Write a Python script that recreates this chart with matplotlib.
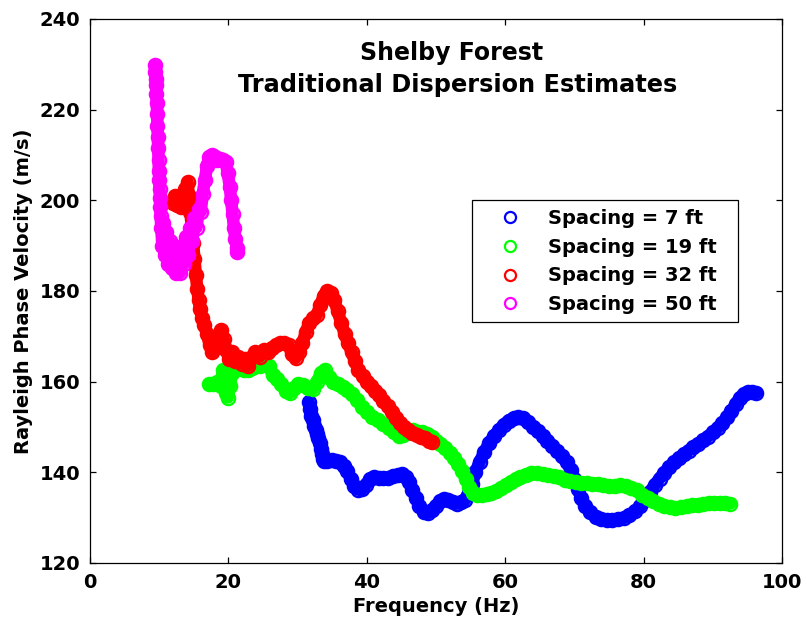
import matplotlib
matplotlib.use("Agg")
import matplotlib.pyplot as plt
from matplotlib.lines import Line2D
from matplotlib.patches import Rectangle

plt.rcParams['font.family'] = ['DejaVu Sans']
plt.rcParams['font.weight'] = 'bold'

# ---------------- data ----------------
title_lines = ["Shelby Forest", "Traditional Dispersion Estimates"]
x_label = "Frequency (Hz)"
y_label = "Rayleigh Phase Velocity (m/s)"
x_ticks = [0, 20, 40, 60, 80, 100]
y_ticks = [120, 140, 160, 180, 200, 220, 240]
series_labels = ["Spacing = 7 ft", "Spacing = 19 ft", "Spacing = 32 ft", "Spacing = 50 ft"]
series_colors = ["#0000ff", "#00ff00", "#ff0000", "#ff00ff"]

blue_f = [31.6, 31.8, 32.0, 32.2, 32.4, 32.6, 32.8, 33.0, 33.2, 33.4,
          33.5, 33.6, 33.8, 34.3, 34.9, 35.5, 36.1, 36.7, 37.2, 37.7,
          38.2, 38.7, 39.3, 39.9, 40.4, 41.0, 41.7, 42.4, 43.1, 43.8,
          44.5, 45.1, 45.6, 46.1, 46.6, 47.1, 47.6, 48.2, 48.8, 49.4,
          50.0, 50.6, 51.2, 51.8, 52.4, 53.0, 53.6, 54.2, 54.7, 55.2,
          55.7, 56.3, 57.0, 57.7, 58.4, 59.1, 59.8, 60.5, 61.2, 61.9,
          62.6, 63.3, 64.0, 64.7, 65.4, 66.1, 66.8, 67.5, 68.2, 68.9,
          69.5, 70.0, 70.5, 71.0, 71.6, 72.3, 73.1, 73.9, 74.7, 75.5,
          76.3, 77.1, 77.9, 78.7, 79.5, 80.2, 80.9, 81.6, 82.3, 83.0,
          83.7, 84.4, 85.1, 85.8, 86.5, 87.2, 87.9, 88.6, 89.3, 90.0,
          90.7, 91.4, 92.1, 92.7, 93.3, 93.9, 94.5, 95.1, 95.7, 96.3]
blue_v = [155.5, 154.0, 152.5, 151.5, 150.3, 149.3, 148.4, 147.5, 146.4, 145.2,
          144.0, 143.0, 142.4, 142.5, 142.7, 142.6, 142.2, 141.5, 140.2, 138.5,
          137.0, 136.2, 136.3, 137.3, 138.5, 138.9, 138.8, 138.7, 138.8, 139.1,
          139.5, 139.6, 139.0, 137.8, 136.2, 134.4, 132.6, 131.3, 131.0, 131.6,
          132.6, 133.6, 134.2, 134.0, 133.4, 133.1, 133.4, 134.0, 135.5, 137.5,
          140.0, 142.3, 144.5, 146.5, 148.0, 149.3, 150.5, 151.4, 152.0, 152.2,
          151.9, 151.0, 150.1, 149.2, 148.1, 147.0, 145.9, 144.7, 143.5, 142.2,
          140.5, 138.5, 136.3, 134.3, 132.5, 131.2, 130.2, 129.7, 129.5, 129.5,
          129.6, 129.9, 130.5, 131.4, 132.5, 134.0, 135.6, 137.2, 138.6, 139.9,
          141.1, 142.2, 143.1, 144.0, 144.8, 145.6, 146.3, 147.1, 147.9, 148.8,
          149.8, 150.9, 152.1, 153.5, 155.0, 156.4, 157.3, 157.7, 157.7, 157.5]

green_f = [17.2, 17.8, 18.4, 18.9, 19.2, 19.4, 19.6, 19.9, 20.2, 20.5,
           21.0, 21.6, 22.2, 22.8, 23.4, 24.0, 24.6, 25.2, 25.8, 26.4,
           27.0, 27.6, 28.3, 28.9, 29.5, 30.1, 30.8, 31.5, 32.2, 32.8,
           33.4, 33.9, 34.5, 35.1, 35.8, 36.5, 37.2, 37.9, 38.6, 39.3,
           40.0, 40.8, 41.6, 42.4, 43.2, 43.9, 44.6, 45.3, 46.0, 46.7,
           47.4, 48.0, 48.7, 49.4, 50.0, 50.6, 51.3, 52.0, 52.6, 53.2,
           53.8, 54.3, 54.8, 55.3, 55.9, 56.6, 57.3, 58.0, 58.7, 59.4,
           60.1, 60.8, 61.5, 62.2, 63.0, 63.8, 64.6, 65.4, 66.2,
           67.0, 67.8, 68.6, 69.4, 70.2, 71.0, 71.8, 72.6, 73.4, 74.2,
           75.0, 75.8, 76.6, 77.4, 78.2, 79.0, 79.8, 80.6, 81.4, 82.2,
           83.0, 83.8, 84.6, 85.4, 86.2, 87.0, 87.8, 88.6, 89.4, 90.2,
           91.0, 91.8, 92.5]
green_v = [159.5, 159.5, 160.0, 159.0, 162.5, 160.0, 157.5, 156.5, 159.0, 162.0,
           163.5, 163.0, 162.5, 162.5, 163.0, 163.5, 163.5, 164.5, 163.5, 161.5,
           160.5, 159.5, 158.0, 157.5, 158.5, 159.5, 159.2, 158.5, 158.4, 160.0,
           162.0, 162.5, 161.0, 160.0, 159.5, 158.8, 158.2, 157.2, 156.0, 154.5,
           153.2, 152.3, 151.5, 150.6, 149.8, 149.0, 148.0, 148.2, 149.0, 149.3,
           149.0, 148.8, 148.5, 147.8, 147.0, 146.3, 145.3, 144.3, 143.2, 141.8,
           140.2, 138.5, 136.7, 135.4, 134.9, 135.0, 135.2, 135.4, 135.8, 136.5,
           137.2, 137.9, 138.5, 139.0, 139.5, 139.8, 139.8, 139.7, 139.5,
           139.3, 138.9, 138.4, 138.0, 137.8, 137.7, 137.6, 137.5, 137.4, 137.2,
           137.0, 136.9, 137.1, 136.9, 136.6, 136.0, 135.1, 134.3, 133.6, 133.1,
           132.6, 132.3, 132.2, 132.3, 132.5, 132.7, 132.9, 133.1, 133.3, 133.3,
           133.3, 133.2, 133.1]

red_f = [12.0, 12.3, 12.6, 12.9, 13.2, 13.5, 13.8, 14.1, 14.3, 14.5,
         14.7, 14.9, 15.1, 15.3, 15.5, 15.7, 15.9, 16.2, 16.5, 16.9,
         17.3, 17.7, 18.1, 18.5, 18.9, 19.3, 19.7, 20.1, 20.5, 20.9,
         21.4, 21.9, 22.4, 22.9, 23.4, 23.9, 24.5, 25.1, 25.7, 26.3,
         26.9, 27.5, 28.1, 28.7, 29.2, 29.7, 30.2, 30.7, 31.2, 31.7,
         32.2, 32.8, 33.3, 33.8, 34.3, 34.8, 35.3, 35.8, 36.3, 36.8,
         37.3, 37.8, 38.3, 38.8, 39.4, 40.0, 40.6, 41.2, 41.8, 42.4,
         43.0, 43.6, 44.2, 44.8, 45.4, 46.0, 46.6, 47.2, 47.8, 48.4,
         49.0, 49.4]
red_v = [199.5, 201.0, 199.0, 200.5, 198.5, 200.5, 202.5, 204.0, 201.0, 197.5,
         194.0, 190.5, 187.0, 183.5, 180.5, 178.0, 176.0, 174.0, 172.5, 170.5,
         168.0, 166.5, 167.5, 170.0, 171.5, 169.5, 167.0, 165.0, 166.5, 164.5,
         165.5, 164.0, 165.0, 163.5, 165.5, 166.5, 165.5, 167.0, 166.5, 167.5,
         168.0, 168.5, 168.5, 168.0, 166.0, 165.2, 166.5, 168.5, 171.0, 173.0,
         174.0, 174.8, 177.0, 179.0, 180.0, 179.5, 178.0, 175.5, 173.0, 170.5,
         168.5, 166.5, 164.5, 162.5, 161.2, 160.0, 159.0, 158.0, 157.0, 155.8,
         154.6, 153.3, 152.0, 150.8, 150.0, 149.3, 148.7, 148.2, 147.8, 147.5,
         147.0, 146.7]

magenta_f = [9.4, 9.45, 9.5, 9.55, 9.6, 9.65, 9.7, 9.75, 9.8, 9.85,
             9.9, 9.95, 10.0, 10.05, 10.1, 10.15, 10.2, 10.3, 10.45, 10.6,
             10.8, 11.0, 11.2, 11.5, 11.8, 12.1, 12.4, 12.7, 13.0, 13.3,
             13.6, 13.9, 14.2, 14.5, 14.8, 15.1, 15.4, 15.7, 16.0, 16.3,
             16.6, 16.9, 17.2, 17.6, 18.0, 18.4, 18.8, 19.2, 19.6, 19.9,
             20.2, 20.4, 20.6, 20.8, 21.0, 21.2, 21.3]
magenta_v = [229.8, 228.2, 226.8, 225.5, 223.5, 221.5, 219.0, 216.5, 214.0, 211.5,
             209.0, 206.5, 204.5, 202.5, 200.5, 198.5, 196.5, 194.0, 190.0, 195.0,
             188.0, 193.0, 186.0, 191.0, 185.0, 190.0, 184.0, 189.0, 184.0, 190.0,
             186.0, 192.0, 188.0, 194.0, 191.0, 196.0, 194.0, 198.0, 197.5, 201.5,
             204.5, 207.5, 209.5, 210.0, 209.5, 209.0, 209.2, 209.0, 208.5, 206.0,
             203.0, 200.0, 197.0, 194.0, 191.5, 189.5, 188.5]

series = [(blue_f, blue_v), (green_f, green_v), (red_f, red_v), (magenta_f, magenta_v)]

# ---------------- figure ----------------
fig = plt.figure(figsize=(8.07, 6.26), dpi=100)
ax = fig.add_axes([90 / 807, 63 / 626, 692 / 807, 544 / 626])

MS, MEW, LW = 9.5, 1.7, 9.0
for (f, v), c in zip(series, series_colors):
    ax.plot(f, v, '-', color=c, lw=LW, solid_capstyle='round', solid_joinstyle='round')
    ax.plot(f, v, 'o', ls='none', mfc='none', mec=c, ms=MS, mew=MEW)

ax.set_xlim(0, 100)
ax.set_ylim(120, 240)
ax.set_xticks(x_ticks)
ax.set_yticks(y_ticks)
ax.tick_params(direction='in', length=4.5, width=0.9, top=True, right=True,
               labelsize=14, pad=7, colors='black')
for s in ax.spines.values():
    s.set_linewidth(0.9)
    s.set_color('black')

ax.set_xlabel(x_label, fontsize=14, fontweight='bold')
ax.set_ylabel(y_label, fontsize=14, fontweight='bold')
ax.xaxis.set_label_coords(0.5, -0.062)
ax.yaxis.set_label_coords(-0.082, 0.5)

ax.text(0.523, 0.9246, title_lines[0], transform=ax.transAxes, ha='center',
        va='baseline', fontsize=17, fontweight='bold')
ax.text(0.531, 0.8658, title_lines[1], transform=ax.transAxes, ha='center',
        va='baseline', fontsize=17.3, fontweight='bold')

handles = [Line2D([], [], ls='none', marker='o', mfc='none', mec=c, ms=8, mew=1.6)
           for c in series_colors]
leg = ax.legend(handles, series_labels, loc='upper left',
                bbox_to_anchor=(0.552, 0.667), borderaxespad=0, frameon=False,
                prop={'size': 14, 'weight': 'bold'}, borderpad=0.45,
                handlelength=3.0, handletextpad=0.45, labelspacing=0.5)
ax.add_patch(Rectangle((0.552, 0.443), 0.384, 0.224, transform=ax.transAxes,
                       fill=False, ec='black', lw=0.9, zorder=5))

fig.savefig("out.png", dpi=100)
